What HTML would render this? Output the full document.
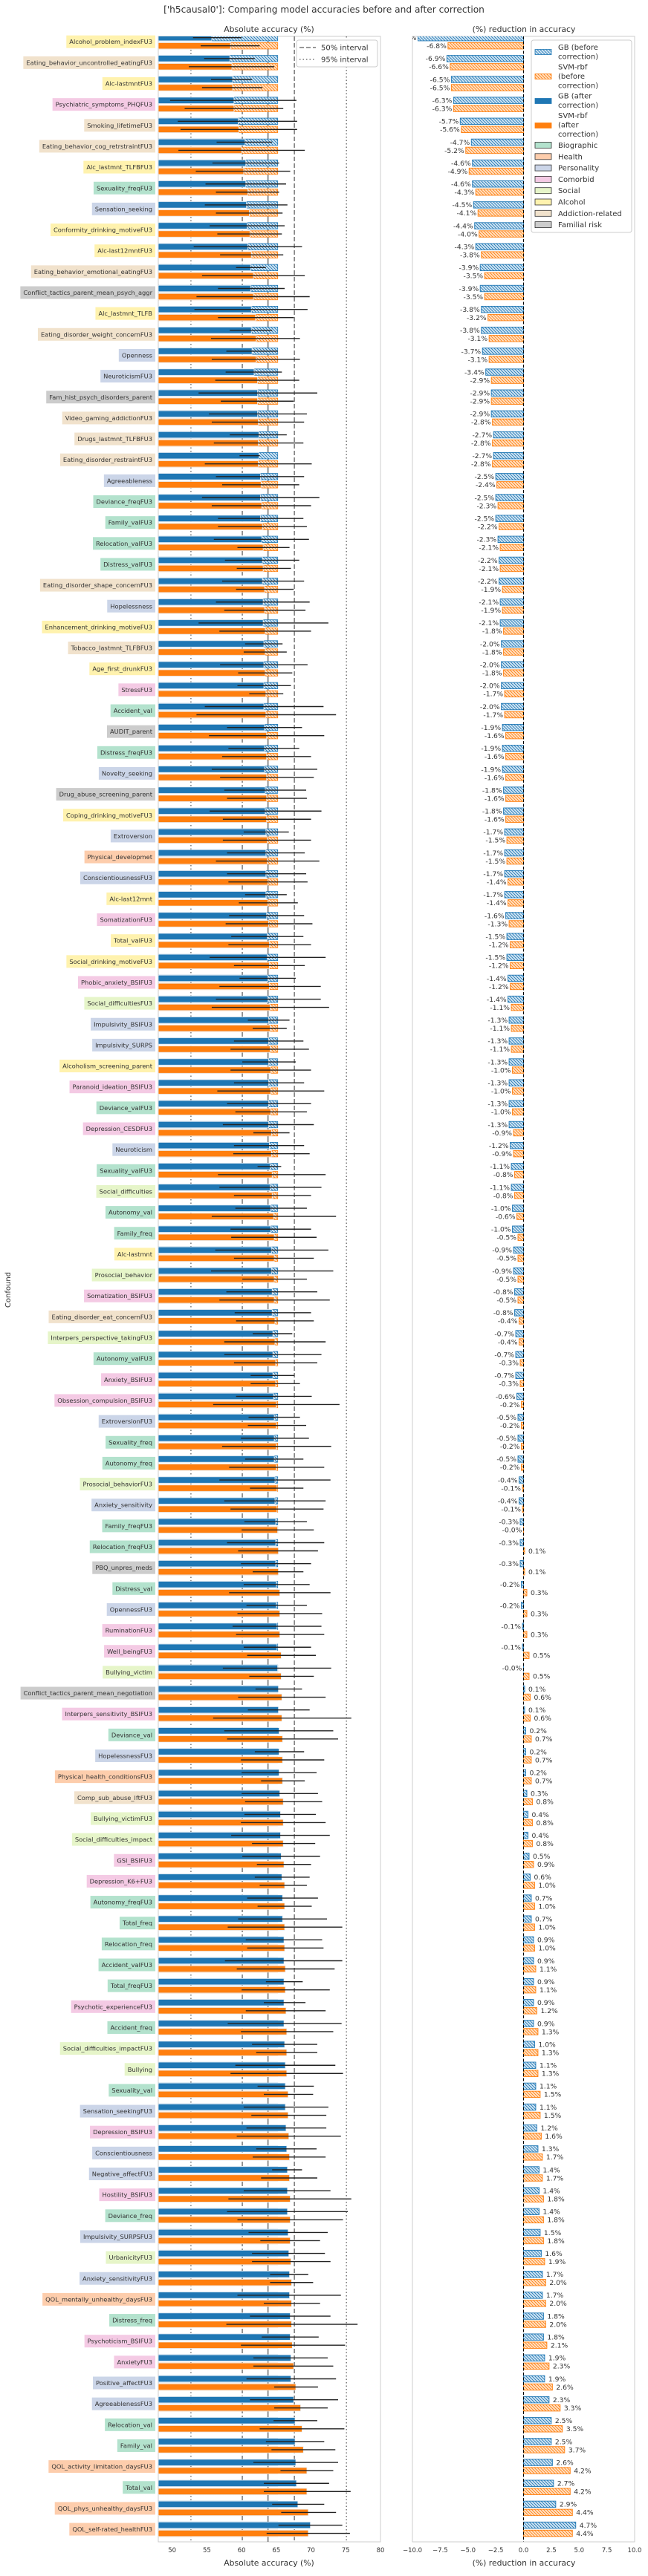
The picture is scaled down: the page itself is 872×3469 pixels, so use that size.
<!DOCTYPE html>
<html><head><meta charset="utf-8"><style>
html,body{margin:0;padding:0;background:#fff;}
svg text{font-family:"DejaVu Sans","Liberation Sans",sans-serif;fill:#333;}
</style></head>
<body>
<svg id="chart" xmlns="http://www.w3.org/2000/svg" width="872" height="3464" viewBox="0 0 872 3464">
<defs>
<pattern id="hatchBlue" patternUnits="userSpaceOnUse" width="4" height="4"><rect width="4" height="4" fill="#d4e6f4"/><path d="M-1,-1 L5,5 M-1,3 L1,5 M3,-1 L5,1" stroke="#1f77b4" stroke-width="0.9"/></pattern>
<pattern id="hatchOrange" patternUnits="userSpaceOnUse" width="4" height="4"><rect width="4" height="4" fill="#ffe3c8"/><path d="M-1,-1 L5,5 M-1,3 L1,5 M3,-1 L5,1" stroke="#ff7f0e" stroke-width="0.9"/></pattern>
<clipPath id="clipLeft"><rect x="213" y="49" width="299" height="3374"/></clipPath>
<clipPath id="clipRight"><rect x="555" y="49" width="299" height="3374"/></clipPath>
</defs>
<text x="436" y="17" text-anchor="middle" font-size="12.2">['h5causal0']: Comparing model accuracies before and after correction</text>
<text x="362" y="43" text-anchor="middle" font-size="10.8">Absolute accuracy (%)</text>
<text x="705" y="43" text-anchor="middle" font-size="10.8">(%) reduction in accuracy</text>
<g id="left"></g>
<g id="right"></g>
<g id="labels"></g>
<text transform="translate(14,1737) rotate(-90)" text-anchor="middle" font-size="10">Confound</text>
<text x="362" y="3455" text-anchor="middle" font-size="10.8">Absolute accuracy (%)</text>
<text x="705" y="3455" text-anchor="middle" font-size="10.8">(%) reduction in accuracy</text>
</svg>
<script>
const labels = ["Alcohol_problem_indexFU3","Eating_behavior_uncontrolled_eatingFU3","Alc-lastmntFU3","Psychiatric_symptoms_PHQFU3","Smoking_lifetimeFU3","Eating_behavior_cog_retrstraintFU3","Alc_lastmnt_TLFBFU3","Sexuality_freqFU3","Sensation_seeking","Conformity_drinking_motiveFU3","Alc-last12mntFU3","Eating_behavior_emotional_eatingFU3","Conflict_tactics_parent_mean_psych_aggr","Alc_lastmnt_TLFB","Eating_disorder_weight_concernFU3","Openness","NeuroticismFU3","Fam_hist_psych_disorders_parent","Video_gaming_addictionFU3","Drugs_lastmnt_TLFBFU3","Eating_disorder_restraintFU3","Agreeableness","Deviance_freqFU3","Family_valFU3","Relocation_valFU3","Distress_valFU3","Eating_disorder_shape_concernFU3","Hopelessness","Enhancement_drinking_motiveFU3","Tobacco_lastmnt_TLFBFU3","Age_first_drunkFU3","StressFU3","Accident_val","AUDIT_parent","Distress_freqFU3","Novelty_seeking","Drug_abuse_screening_parent","Coping_drinking_motiveFU3","Extroversion","Physical_developmet","ConscientiousnessFU3","Alc-last12mnt","SomatizationFU3","Total_valFU3","Social_drinking_motiveFU3","Phobic_anxiety_BSIFU3","Social_difficultiesFU3","Impulsivity_BSIFU3","Impulsivity_SURPS","Alcoholism_screening_parent","Paranoid_ideation_BSIFU3","Deviance_valFU3","Depression_CESDFU3","Neuroticism","Sexuality_valFU3","Social_difficulties","Autonomy_val","Family_freq","Alc-lastmnt","Prosocial_behavior","Somatization_BSIFU3","Eating_disorder_eat_concernFU3","Interpers_perspective_takingFU3","Autonomy_valFU3","Anxiety_BSIFU3","Obsession_compulsion_BSIFU3","ExtroversionFU3","Sexuality_freq","Autonomy_freq","Prosocial_behaviorFU3","Anxiety_sensitivity","Family_freqFU3","Relocation_freqFU3","PBQ_unpres_meds","Distress_val","OpennessFU3","RuminationFU3","Well_beingFU3","Bullying_victim","Conflict_tactics_parent_mean_negotiation","Interpers_sensitivity_BSIFU3","Deviance_val","HopelessnessFU3","Physical_health_conditionsFU3","Comp_sub_abuse_lftFU3","Bullying_victimFU3","Social_difficulties_impact","GSI_BSIFU3","Depression_K6+FU3","Autonomy_freqFU3","Total_freq","Relocation_freq","Accident_valFU3","Total_freqFU3","Psychotic_experienceFU3","Accident_freq","Social_difficulties_impactFU3","Bullying","Sexuality_val","Sensation_seekingFU3","Depression_BSIFU3","Conscientiousness","Negative_affectFU3","Hostility_BSIFU3","Deviance_freq","Impulsivity_SURPSFU3","UrbanicityFU3","Anxiety_sensitivityFU3","QOL_mentally_unhealthy_daysFU3","Distress_freq","Psychoticism_BSIFU3","AnxietyFU3","Positive_affectFU3","AgreeablenessFU3","Relocation_val","Family_val","QOL_activity_limitation_daysFU3","Total_val","QOL_phys_unhealthy_daysFU3","QOL_self-rated_healthFU3"];
const categories = "ADACDDABPAADFADPPFDDDPBBBBDPADACBFBPFAPHPACAACSPPACBCPBSBBASCDSBCCPBBSPBBFBPCCSFCBPHDSSCCBBBBBCBSSBPCPPCBPSPHBCCPPBBHBHH";
const gbBefore = 65.2, svmBefore = 65.2;
const gbDelta = [-9.5,-6.9,-6.5,-6.3,-5.7,-4.7,-4.6,-4.6,-4.5,-4.4,-4.3,-3.9,-3.9,-3.8,-3.8,-3.7,-3.4,-2.9,-2.9,-2.7,-2.7,-2.5,-2.5,-2.5,-2.3,-2.2,-2.2,-2.1,-2.1,-2.0,-2.0,-2.0,-2.0,-1.9,-1.9,-1.9,-1.8,-1.8,-1.7,-1.7,-1.7,-1.7,-1.6,-1.5,-1.5,-1.4,-1.4,-1.3,-1.3,-1.3,-1.3,-1.3,-1.3,-1.2,-1.1,-1.1,-1.0,-1.0,-0.9,-0.9,-0.8,-0.8,-0.7,-0.7,-0.7,-0.6,-0.5,-0.5,-0.5,-0.4,-0.4,-0.3,-0.3,-0.3,-0.2,-0.2,-0.1,-0.1,-0.01,0.1,0.1,0.2,0.2,0.2,0.3,0.4,0.4,0.5,0.6,0.7,0.7,0.9,0.9,0.9,0.9,0.9,1.0,1.1,1.1,1.1,1.2,1.3,1.4,1.4,1.4,1.5,1.6,1.7,1.7,1.8,1.8,1.9,1.9,2.3,2.5,2.5,2.6,2.7,2.9,4.7];
const svmDelta = [-6.8,-6.6,-6.5,-6.3,-5.6,-5.2,-4.9,-4.3,-4.1,-4.0,-3.8,-3.5,-3.5,-3.2,-3.1,-3.1,-2.9,-2.9,-2.8,-2.8,-2.8,-2.4,-2.3,-2.2,-2.1,-2.1,-1.9,-1.9,-1.8,-1.8,-1.8,-1.7,-1.7,-1.6,-1.6,-1.6,-1.6,-1.6,-1.5,-1.5,-1.4,-1.4,-1.3,-1.2,-1.2,-1.2,-1.1,-1.1,-1.1,-1.0,-1.0,-1.0,-0.9,-0.9,-0.8,-0.8,-0.6,-0.5,-0.5,-0.5,-0.5,-0.4,-0.4,-0.3,-0.3,-0.2,-0.2,-0.2,-0.2,-0.1,-0.1,-0.01,0.1,0.1,0.3,0.3,0.3,0.5,0.5,0.6,0.6,0.7,0.7,0.7,0.8,0.8,0.8,0.9,1.0,1.0,1.0,1.0,1.1,1.1,1.2,1.3,1.3,1.3,1.5,1.5,1.6,1.7,1.7,1.8,1.8,1.8,1.9,2.0,2.0,2.0,2.1,2.3,2.6,3.3,3.5,3.7,4.2,4.2,4.4,4.4];
const gbErrLo = [53,54.6,55.6,49.7,50.8,56.4,55.8,54.8,54.7,55.4,53.1,59.2,56.6,53.2,58.3,57.8,57.7,53.8,55.3,58.3,59.7,56.3,54.3,56.6,56.0,57.6,57.2,56.3,53.8,60.5,56.9,59.4,54.7,57.9,58.1,55.7,57.5,55.4,60.3,57.9,57.9,60.5,58.2,58.5,55.4,59.7,56.3,60.9,58.9,60.1,58.9,57.9,57.3,58.9,62.3,56.8,59.1,58.4,56.2,55.6,57.8,59.0,61.6,57.5,61.3,59.2,61.0,59.9,60.5,56.8,57.5,60.4,57.9,59.9,60.3,60.7,58.7,60.3,57.3,62.0,60.9,57.5,61.9,60.0,60.0,60.4,58.5,60.1,61.9,60.8,59.5,60.6,57.6,63.5,63.2,58.0,61.5,59.1,62.3,60.3,60.7,62.1,64.4,60.3,57.9,61.0,61.5,64.1,59.4,61.2,62.9,61.7,60.7,61.2,64.6,63.5,61.7,63.2,64.4,65.3];
const gbErrHi = [60,61.9,61.5,67.9,68.0,64.4,65.4,66.4,66.6,66.2,68.7,63.5,66.2,69.5,64.4,65.2,65.8,70.9,69.4,66.5,62.6,69.0,71.2,68.9,69.7,68.3,69.0,69.8,72.5,65.9,69.5,67.1,71.8,68.7,68.3,70.9,69.3,71.5,66.8,69.1,69.3,66.5,69.0,68.9,72.1,67.8,71.4,66.9,68.9,67.8,69.0,70.0,70.4,69.0,65.7,71.5,69.4,70.0,72.5,73.2,70.9,70.0,67.3,71.5,67.6,70.1,68.4,69.7,68.9,72.8,72.1,69.4,71.9,70.0,69.8,69.4,71.5,70.0,72.9,68.7,69.8,73.2,69.0,70.8,71.0,70.7,72.7,71.3,69.8,71.0,72.3,71.6,74.5,68.8,69.2,74.4,70.9,73.5,70.4,72.5,72.2,70.8,68.7,72.8,75.3,72.4,72.0,69.6,74.3,72.8,71.1,72.4,73.6,73.9,70.9,71.9,73.9,72.6,71.9,74.5];
const svmErrLo = [54.1,52.4,54.3,51.8,51.2,50.9,53.4,56.3,56.3,56.5,56.9,54.3,53.5,56.6,55.6,55.7,56.2,57.0,55.7,56.0,54.7,57.2,55.7,56.6,59.4,59.3,59.2,57.5,56.8,60.3,59.5,61.1,53.5,55.3,57.2,56.9,57.9,57.3,57.3,56.3,58.1,59.6,57.7,58.1,58.9,56.8,55.7,61.6,58.4,58.4,56.5,59.1,61.7,58.8,56.6,58.9,55.7,58.5,58.9,60.1,56.8,59.2,57.5,58.9,61.3,55.9,60.9,57.2,58.2,61.2,58.4,60.0,59.5,61.6,58.2,59.4,59.2,60.8,61.1,59.5,55.9,57.9,59.9,62.8,60.5,59.9,61.5,62.2,62.6,62.3,58.0,60.8,59.3,60.0,60.6,59.9,62.1,58.4,63.2,61.4,59.3,61.6,62.8,58.1,59.4,62.7,61.5,64.1,63.2,57.8,59.9,61.7,64.7,64.7,62.6,64.3,65.6,63.2,65.7,63.6];
const svmErrHi = [62.6,64.7,63.0,66.0,68.0,69.1,67.0,65.4,65.9,65.8,66.0,69.1,69.8,67.5,68.4,68.4,68.3,67.5,69.0,68.9,70.1,68.3,70.0,69.4,66.9,67.1,67.5,69.2,70.0,66.5,67.3,66.0,73.6,71.9,70.0,70.4,69.4,70.0,70.0,71.2,69.5,68.1,70.2,70.0,69.1,71.4,72.6,66.5,69.7,70.0,71.9,69.4,66.9,69.8,72.1,70.0,73.6,70.8,70.4,69.4,72.7,70.4,72.1,70.9,68.4,74.1,69.3,72.9,71.9,68.9,71.8,70.4,71.0,68.9,72.8,71.6,71.9,70.7,70.4,72.1,75.8,73.9,71.9,69.1,71.6,72.1,70.6,70.0,69.4,70.1,74.5,71.8,73.4,72.7,72.1,73.2,70.9,74.6,70.3,72.2,74.3,72.1,70.9,75.8,74.6,71.3,72.8,70.3,71.3,76.7,74.9,73.2,71.0,72.4,74.8,73.5,73.2,75.7,73.6,75.6];
const refLines = [52.7, 60.1, 63.8, 67.6, 75.1];
const refStyles = ["dot","dash","solid","dash","dot"];
const leftTicks = [50,55,60,65,70,75,80];
const rightTicks = [-10,-7.5,-5,-2.5,0,2.5,5,7.5,10];
const catNames = ["Biographic","Health","Personality","Comorbid","Social","Alcohol","Addiction-related","Familial risk"];
const catCodes = ["B","H","P","C","S","A","D","F"];
const catColors = ["#b3e2cd","#fdcdac","#cbd5e8","#f4cae4","#e6f5c9","#fff2ae","#f1e2cc","#cccccc"];

const NS = "http://www.w3.org/2000/svg";
const LX0 = 213, LX1 = 512, RX0 = 555, RX1 = 854, Y0 = 49, Y1 = 3423;
const xL = v => LX0 + (v - 48) * (LX1 - LX0) / 32;
const xR = v => RX0 + (v + 10) * (RX1 - RX0) / 20;
const yRow = i => 50.7 + i * 28.15;
const BH = 8.5, OFF = 11;
function mk(tag, attrs, parent) { const e = document.createElementNS(NS, tag); for (const k in attrs) e.setAttribute(k, attrs[k]); parent.appendChild(e); return e; }

const left = document.getElementById('left');
const right = document.getElementById('right');
const labG = document.getElementById('labels');

let fr = mk('rect', {x:LX0,y:Y0,width:LX1-LX0,height:Y1-Y0,fill:'none',stroke:'#cccccc','stroke-width':1}, left);


fr = mk('rect', {x:RX0,y:Y0,width:RX1-RX0,height:Y1-Y0,fill:'none',stroke:'#cccccc','stroke-width':1}, right);



const lg = mk('g', {'clip-path':'url(#clipLeft)'}, left);
const rg = mk('g', {'clip-path':'url(#clipRight)'}, right);

refLines.forEach((v, k) => {
  const st = refStyles[k];
  const l = mk('line', {x1:xL(v),x2:xL(v),y1:Y0,y2:Y1,stroke:'#777','stroke-width':st==='solid'?1.6:1.5,'stroke-dasharray':st==='dash'?'6,3':(st==='dot'?'1.5,3':'none')}, lg);
  
  
});

const fmt = v => (v < 0 ? '-' : '') + Math.abs(v).toFixed(1) + '%';

labels.forEach((name, i) => {
  const yg = yRow(i), ys = yg + OFF;
  [[yg, gbBefore, gbDelta[i], '#1f77b4', 'url(#hatchBlue)', 'gb', gbErrLo[i], gbErrHi[i]],
   [ys, svmBefore, svmDelta[i], '#ff7f0e', 'url(#hatchOrange)', 'svm', svmErrLo[i], svmErrHi[i]]].forEach(a => {
    const [y, before, d, col, hatch, key, lo, hi] = a;
    const hb = mk('rect', {x:LX0, y:y-BH/2, width:xL(before)-LX0, height:BH, fill:hatch, stroke:col, 'stroke-width':0.8}, lg);
    
    
    const ab = mk('rect', {x:LX0, y:y-BH/2, width:xL(before + d)-LX0, height:BH, fill:col, stroke:'#e8eef4', 'stroke-width':0.8}, lg);
    
    
    const eb = mk('line', {x1:xL(lo), x2:xL(hi), y1:y, y2:y, stroke:'#222', 'stroke-width':1.4}, lg);
    
    
    const x0 = xR(0), x1 = xR(d);
    const rb = mk('rect', {x:Math.min(x0,x1), y:y-BH/2, width:Math.abs(x1-x0), height:BH, fill:hatch, stroke:col, 'stroke-width':0.9}, rg);
    
    
    const t = mk('text', {x: d < 0 ? x1 - 2 : x1 + 5, y: y + 3.3, 'text-anchor': d < 0 ? 'end' : 'start', 'font-size': 9.2}, rg);
    t.textContent = fmt(d);
    
    
  });
  const cy = yg + OFF / 2;
  const color = catColors[catCodes.indexOf(categories[i])];
  const bg = mk('rect', {x:0, y:cy-8.5, width:10, height:17, fill:color}, labG);
  
  
  const lt = mk('text', {x:205, y:cy+3, 'text-anchor':'end', 'font-size':8.3}, labG);
  lt.textContent = name;
  
  
  const w = lt.getComputedTextLength();
  bg.setAttribute('x', 205 - w - 4);
  bg.setAttribute('width', w + 8);
});

const zl = mk('line', {x1:xR(0),x2:xR(0),y1:Y0,y2:Y1,stroke:'#000','stroke-width':1,'stroke-dasharray':'4,2.5'}, right);



leftTicks.forEach(v => {
  const t = mk('text', {x:xL(v), y:3437, 'text-anchor':'middle', 'font-size':8.5}, left);
  t.textContent = String(v);
  
  
});
rightTicks.forEach(v => {
  const t = mk('text', {x:xR(v), y:3437, 'text-anchor':'middle', 'font-size':8.5}, right);
  t.textContent = (v < 0 ? '\u2212' : '') + Math.abs(v).toFixed(1);
  
  
});

const llg = mk('g', {}, left);


mk('rect', {x:399, y:54, width:109, height:36, rx:3, fill:'#fff', stroke:'#ccc', 'stroke-width':1, 'fill-opacity':0.9}, llg);
mk('line', {x1:403, x2:425, y1:64, y2:64, stroke:'#777', 'stroke-width':1.5, 'stroke-dasharray':'6,3'}, llg);
mk('line', {x1:403, x2:425, y1:80, y2:80, stroke:'#777', 'stroke-width':1.5, 'stroke-dasharray':'1.5,3'}, llg);
let tt = mk('text', {x:432, y:67.5, 'font-size':10}, llg); tt.textContent = '50% interval';


tt = mk('text', {x:432, y:83.5, 'font-size':10}, llg); tt.textContent = '95% interval';



const rlg = mk('g', {}, right);


mk('rect', {x:715, y:54, width:135, height:259, rx:3, fill:'#fff', stroke:'#ccc', 'stroke-width':1, 'fill-opacity':0.9}, rlg);
const modelEntries = [
  {fill:'url(#hatchBlue)', stroke:'#1f77b4', py:70, lines:['GB (before','correction)'], ty:67},
  {fill:'url(#hatchOrange)', stroke:'#ff7f0e', py:103, lines:['SVM-rbf','(before','correction)'], ty:93.5},
  {fill:'#1f77b4', stroke:'#1f77b4', py:136, lines:['GB (after','correction)'], ty:132.5},
  {fill:'#ff7f0e', stroke:'#ff7f0e', py:169, lines:['SVM-rbf','(after','correction)'], ty:159}
];
modelEntries.forEach(m => {
  const r = mk('rect', {x:720, y:m.py-3.5, width:22, height:7, fill:m.fill, stroke:m.stroke, 'stroke-width':0.8}, rlg);
  
  
  m.lines.forEach((s, k) => {
    const t = mk('text', {x:751, y:m.ty + k*12.5, 'font-size':10}, rlg);
    t.textContent = s;
    
    
  });
});
catNames.forEach((n, k) => {
  const y = 195.5 + k * 15.3;
  const r = mk('rect', {x:720, y:y-4, width:22, height:8, fill:catColors[k], stroke:'#333', 'stroke-width':0.8}, rlg);
  
  
  const t = mk('text', {x:751, y:y+3.5, 'font-size':10}, rlg);
  t.textContent = n;
  
  
});
</script>
</body></html>
